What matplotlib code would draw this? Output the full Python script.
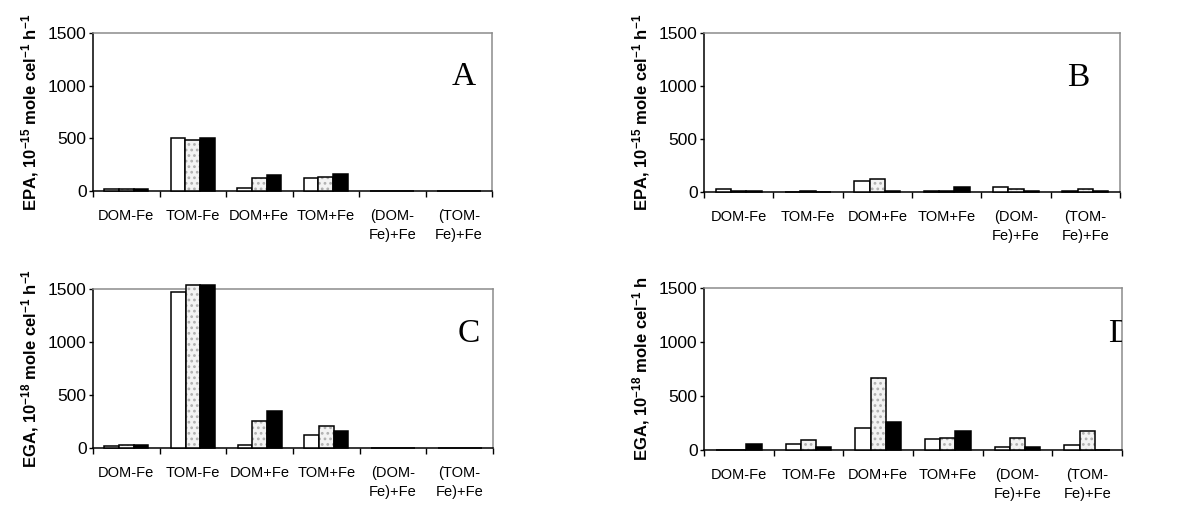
import matplotlib
matplotlib.use("Agg")
import matplotlib.pyplot as plt
import numpy as np

plt.rcParams['font.family'] = ['Liberation Sans', 'DejaVu Sans']
plt.rcParams['hatch.linewidth'] = 1.2
plt.rcParams['mathtext.fontset'] = 'custom'
plt.rcParams['mathtext.bf'] = 'Liberation Sans:bold'
plt.rcParams['mathtext.rm'] = 'Liberation Sans'
plt.rcParams['mathtext.it'] = 'Liberation Sans:italic'

categories = ["DOM-Fe", "TOM-Fe", "DOM+Fe", "TOM+Fe", "(DOM-\nFe)+Fe", "(TOM-\nFe)+Fe"]

# Panel A (EPA, left)
a_white = [15, 500, 30, 120, 0, 0]
a_dotted = [15, 485, 125, 135, 0, 0]
a_black = [15, 500, 155, 165, 0, 0]

# Panel B (EPA, right)
b_white = [28, 0, 105, 10, 45, 10]
b_dotted = [12, 12, 120, 10, 28, 28]
b_black = [12, 0, 12, 45, 12, 12]

# Panel C (EGA, left)
c_white = [15, 1470, 30, 120, 0, 0]
c_dotted = [30, 1535, 255, 210, 0, 0]
c_black = [33, 1535, 345, 165, 0, 0]

# Panel D (EGA, right)
d_white = [0, 60, 205, 105, 30, 45]
d_dotted = [0, 88, 665, 115, 115, 175]
d_black = [60, 30, 255, 180, 30, 0]

yticks = [0, 500, 1000, 1500]

W, H = 1177, 507
fig = plt.figure(figsize=(W / 100, H / 100), dpi=100)


def px_axes(left, right, top, bottom):
    return fig.add_axes([left / W, 1 - bottom / H, (right - left) / W, (bottom - top) / H])


panels = [
    (px_axes(93, 492, 33, 191), a_white, a_dotted, a_black,
     r"EPA, 10$^{\mathbf{-15}}$ mole cel$^{\mathbf{-1}}$ h$^{\mathbf{-1}}$", "A", 0.93),
    (px_axes(704, 1120, 33, 192), b_white, b_dotted, b_black,
     r"EPA, 10$^{\mathbf{-15}}$ mole cel$^{\mathbf{-1}}$ h$^{\mathbf{-1}}$", "B", 0.90),
    (px_axes(93, 493, 289, 448), c_white, c_dotted, c_black,
     r"EGA, 10$^{\mathbf{-18}}$ mole cel$^{\mathbf{-1}}$ h$^{\mathbf{-1}}$", "C", 0.94),
    (px_axes(704, 1122, 288, 450), d_white, d_dotted, d_black,
     r"EGA, 10$^{\mathbf{-18}}$ mole cel$^{\mathbf{-1}}$ h", "D", 0.995),
]

bw = 0.22
x = np.arange(len(categories)) + 0.5

for ax, sw, sd, sb, ylab, letter, lx in panels:
    ax.bar(x - bw, sw, width=bw, facecolor="white", edgecolor="black", linewidth=1.1,
           clip_on=False, zorder=3)
    ax.bar(x, sd, width=bw, facecolor="#f3f3f3", edgecolor="#b0b0b0", hatch="...",
           linewidth=0, clip_on=False, zorder=3)
    ax.bar(x, sd, width=bw, fill=False, edgecolor="black", linewidth=1.1,
           clip_on=False, zorder=4)
    ax.bar(x + bw, sb, width=bw, facecolor="black", edgecolor="black", linewidth=1.1,
           clip_on=False, zorder=3)

    ax.set_xlim(0, len(categories))
    ax.set_ylim(0, 1500)
    ax.set_yticks(yticks)
    ax.set_yticklabels([str(t) for t in yticks], fontsize=12.5)
    ax.set_xticks(np.arange(len(categories) + 1))
    ax.set_xticklabels([])
    ax.set_xticks(x, minor=True)
    ax.set_xticklabels(categories, minor=True, fontsize=10.5, va="top", linespacing=1.45)
    ax.tick_params(axis="x", which="major", direction="out", length=4, width=1, color="black")
    ax.tick_params(axis="x", which="minor", length=0, pad=13)
    ax.tick_params(axis="y", direction="out", length=3, width=1, pad=1.5)
    for s in ("top", "right"):
        ax.spines[s].set_color("#8c8c8c")
        ax.spines[s].set_linewidth(1.1)
    for s in ("left", "bottom"):
        ax.spines[s].set_color("black")
        ax.spines[s].set_linewidth(1.1)
    ax.set_ylabel(ylab, fontsize=12, fontweight="bold", labelpad=5)
    ax.text(lx, 0.72, letter, transform=ax.transAxes, ha="center", va="center",
            fontsize=24, family=["Liberation Serif", "DejaVu Serif"], clip_on=True)

fig.savefig("out.png", dpi=100)
